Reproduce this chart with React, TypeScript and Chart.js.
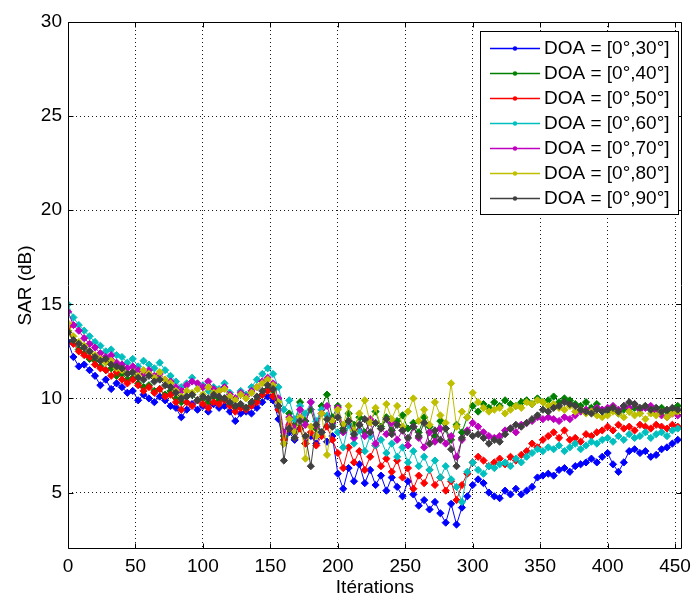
import React, { useEffect, useRef } from "react";
import { Chart, registerables } from "chart.js";

Chart.register(...registerables);

const iterations = [
  0, 4, 8, 12, 16, 20, 24, 28, 32, 36,
  40, 44, 48, 52, 56, 60, 64, 68, 72, 76,
  80, 84, 88, 92, 96, 100, 104, 108, 112, 116,
  120, 124, 128, 132, 136, 140, 144, 148, 152, 156,
  160, 164, 168, 172, 176, 180, 184, 188, 192, 196,
  200, 204, 208, 212, 216, 220, 224, 228, 232, 236,
  240, 244, 248, 252, 256, 260, 264, 268, 272, 276,
  280, 284, 288, 292, 296, 300, 304, 308, 312, 316,
  320, 324, 328, 332, 336, 340, 344, 348, 352, 356,
  360, 364, 368, 372, 376, 380, 384, 388, 392, 396,
  400, 404, 408, 412, 416, 420, 424, 428, 432, 436,
  440, 444, 448, 452,
];

const sarDoa30 = [
  13.0, 12.2, 11.7, 11.8, 11.5, 11.2, 10.7, 11.0, 10.5, 10.8,
  10.6, 10.3, 10.4, 9.9, 10.2, 10.0, 9.8, 10.1, 9.9, 9.6,
  9.5, 9.0, 9.4, 9.7, 9.4, 9.6, 9.3, 9.7, 9.5, 9.6,
  9.3, 8.8, 9.2, 9.3, 9.2, 9.5, 9.8, 10.1, 9.9, 8.9,
  7.6, 8.2, 7.8, 8.4, 7.6, 8.0, 7.6, 8.2, 7.7, 8.0,
  6.0, 5.2, 6.3, 5.6, 6.5, 5.5, 6.2, 5.4, 5.9, 5.1,
  5.8, 5.3, 4.8, 5.6, 4.9, 4.3, 4.6, 4.1, 4.5, 3.9,
  3.4, 4.4, 3.3, 4.2, 4.8, 5.4, 5.7, 5.5, 5.0, 4.8,
  4.7, 5.1, 4.9, 5.2, 4.9, 5.1, 5.3, 5.8, 5.9, 6.0,
  5.9, 6.2, 6.3, 6.1, 6.4, 6.5, 6.6, 6.8, 6.6, 6.9,
  7.1, 6.5, 6.1, 6.6, 7.2, 7.3, 7.1, 7.2, 6.9, 7.0,
  7.3, 7.4, 7.6, 7.8,
];

const sarDoa40 = [
  13.6, 13.0, 12.6, 12.4, 12.1, 12.0, 11.7, 11.5, 11.6, 11.2,
  11.3, 11.0, 11.1, 10.8, 10.6, 10.7, 10.4, 10.5, 10.2, 10.4,
  10.0, 9.8, 10.1, 10.2, 9.9, 10.0, 9.8, 10.1, 9.9, 10.0,
  9.7, 9.5, 9.6, 9.5, 9.7, 9.9, 10.2, 10.5, 10.4, 9.6,
  8.0, 9.2, 8.6, 9.8, 8.8, 9.4, 8.4, 9.6, 10.2, 9.0,
  9.6, 8.4, 9.2, 8.6, 9.0, 8.2, 8.8, 9.3, 8.5, 9.0,
  8.3, 8.8, 9.1, 8.4, 8.7, 8.2, 9.0, 8.5, 8.0, 8.8,
  8.4, 7.8, 8.6, 8.2, 9.0, 9.6, 9.3, 9.7, 9.5, 9.8,
  9.6, 9.9, 9.7, 9.6, 9.8, 9.9, 9.7, 10.0, 9.8, 9.9,
  10.1, 9.8, 10.0, 9.9, 9.7, 9.6, 9.8, 9.5, 9.7, 9.4,
  9.3, 9.5, 9.2, 9.4, 9.3, 9.5, 9.2, 9.6, 9.4, 9.3,
  9.5, 9.3, 9.4, 9.6,
];

const sarDoa50 = [
  13.8, 12.9, 12.5, 12.3, 12.2, 11.8, 11.6, 11.5, 11.2, 11.4,
  11.0, 10.8, 11.0, 10.7, 10.4, 10.6, 10.3, 10.5, 10.1, 10.2,
  9.8, 9.4, 9.8, 9.6, 9.9, 9.7, 9.5, 9.8, 9.7, 9.9,
  9.6, 9.3, 9.5, 9.4, 9.6, 9.8, 10.2, 10.4, 10.1, 9.4,
  7.8, 8.6, 7.9, 8.4, 7.6, 8.2, 7.5, 8.0, 8.5, 7.8,
  7.1, 6.3, 7.4, 6.6, 7.2, 6.2, 6.9, 7.5, 6.4, 6.8,
  6.1, 6.7, 5.8, 6.3, 5.2, 5.9, 5.5, 6.2, 5.4, 5.8,
  5.1, 5.6, 4.6, 5.4, 6.0, 6.6, 6.9, 6.7, 6.4, 6.6,
  6.8, 6.5, 6.9, 6.7, 7.0, 7.2, 7.6, 7.4, 7.8, 8.0,
  8.2, 7.9, 8.3, 7.8, 7.9, 7.7, 8.1, 8.0, 8.2, 8.3,
  8.5, 8.3, 8.6, 8.4, 8.5, 8.3, 8.6, 8.5, 8.4, 8.6,
  8.5, 8.4, 8.6, 8.5,
];

const sarDoa60 = [
  15.0, 14.3, 13.9, 13.6, 13.3, 13.0, 12.8, 12.5, 12.6, 12.3,
  12.2, 11.9, 12.1, 11.7, 12.0, 11.8, 11.6, 11.9, 11.5, 11.2,
  10.9, 10.6, 10.8, 11.1, 10.5, 10.7, 10.4, 10.6, 10.5, 10.8,
  10.3, 10.0, 10.4, 10.2, 10.6, 11.0, 11.3, 11.6, 11.3, 10.6,
  9.4, 9.9, 8.9, 9.6, 9.2, 9.8, 8.8, 9.4, 9.1, 8.6,
  8.2, 7.4, 8.6, 7.6, 8.3, 7.2, 8.0, 7.5, 7.8, 7.1,
  7.6, 6.9, 7.4, 6.6, 7.2, 6.4, 6.9, 6.2, 6.7, 5.8,
  6.4, 5.7, 5.3, 4.5, 6.1, 6.6, 6.2, 6.0, 6.4, 6.3,
  6.5, 6.6, 6.4, 6.8, 6.6, 6.9, 7.1, 7.3, 7.2, 7.4,
  7.3, 7.5, 7.2, 7.4, 7.6, 7.3, 7.5, 7.7, 7.6, 7.8,
  7.9, 7.7, 8.0, 7.8, 8.1, 7.9, 8.0, 8.2, 7.9, 8.1,
  8.2, 8.0, 8.3, 8.4,
];

const sarDoa70 = [
  14.6, 13.9, 13.6, 13.2, 12.9, 12.7, 12.4, 12.2, 12.3, 11.9,
  11.8, 11.6, 11.7, 11.5, 11.3, 11.5, 11.2, 11.3, 11.0, 10.9,
  10.6, 10.4, 10.7, 10.9, 10.8, 10.6, 10.9, 10.5, 10.4, 10.6,
  10.2, 10.0, 10.3, 10.1, 10.4, 10.6, 10.9, 11.1, 10.8, 10.0,
  8.2, 9.0, 8.4, 9.4, 8.6, 9.8, 8.5, 9.2, 9.6, 8.7,
  9.5, 8.2, 8.8, 7.9, 8.6, 8.0, 8.9, 7.6, 8.4, 8.1,
  8.7, 7.8, 8.3, 7.5, 8.5, 7.9, 7.4, 8.2, 7.7, 8.4,
  7.6, 8.0, 6.9, 7.8, 8.3, 8.7, 8.5, 8.2, 8.0, 7.9,
  8.0, 8.3, 8.4, 8.2, 8.6, 8.7, 8.8, 9.0, 8.9, 9.0,
  8.9, 8.8, 9.0, 8.9, 9.1, 9.3, 9.4, 9.3, 9.5, 9.4,
  9.5, 9.6, 9.4, 9.6, 9.5, 9.7, 9.4, 9.5, 9.6, 9.3,
  9.1, 9.0, 9.2, 9.1,
];

const sarDoa80 = [
  14.0, 13.3, 13.0, 12.8, 12.5, 12.3, 12.1, 11.9, 12.0, 11.6,
  11.5, 11.3, 11.4, 11.2, 11.5, 11.3, 11.1, 11.4, 11.0, 10.8,
  10.4, 10.1, 10.4, 10.3, 10.5, 10.2, 10.6, 10.3, 10.4, 10.5,
  10.1, 9.9, 10.2, 10.0, 10.3, 10.6, 10.8, 11.0, 10.7, 9.8,
  7.6, 8.9, 8.2, 9.0, 6.8, 8.5, 8.0, 9.2, 7.0, 8.8,
  9.4, 8.6, 9.6, 8.3, 9.2, 9.9, 8.7, 9.5, 8.4, 9.7,
  8.9, 9.6, 8.5, 9.3, 10.0, 8.8, 9.4, 8.6, 9.8, 9.1,
  8.7, 10.8, 8.5, 9.3, 9.0, 10.3, 9.8, 9.5, 9.3, 9.4,
  9.5, 9.2, 9.4, 9.6, 9.5, 9.8, 9.7, 9.9, 9.8, 9.6,
  9.7, 9.5, 9.4, 9.6, 9.3, 9.4, 9.2, 9.3, 9.1, 9.0,
  9.1, 9.3, 9.2, 9.0, 9.3, 9.1, 9.2, 8.9, 9.2, 9.1,
  9.3, 9.0, 9.2, 9.3,
];

const sarDoa90 = [
  13.5, 13.1, 12.9, 12.7, 12.5, 12.2, 12.0, 12.1, 11.8, 11.7,
  11.6, 11.3, 11.4, 11.1, 11.0, 11.2, 10.9, 11.0, 10.7, 10.6,
  10.3, 10.0, 10.1, 10.2, 9.9, 10.1, 10.0, 10.2, 10.1, 10.0,
  9.8, 9.6, 9.7, 9.5, 9.8, 10.1, 10.4, 10.7, 10.5, 9.6,
  6.7, 8.4, 7.9, 8.8, 8.0, 6.4, 8.6, 8.2, 8.9, 8.5,
  9.0, 8.3, 8.8, 8.1, 8.6, 8.9, 8.2, 8.7, 8.4, 8.9,
  8.1, 8.6, 8.3, 7.9, 8.5, 8.0, 8.7, 7.6, 8.3, 7.8,
  8.4, 7.3, 6.4, 7.9, 8.2, 8.0, 8.1, 7.9, 7.6, 7.8,
  7.7, 8.1, 8.4, 8.6, 8.5, 8.7, 8.9, 9.1, 9.4, 9.3,
  9.5, 9.6, 9.8, 9.7, 9.6, 9.4, 9.3, 9.2, 9.4, 9.3,
  9.4, 9.5, 9.3, 9.6, 9.8, 9.7, 9.5, 9.6, 9.4, 9.5,
  9.3, 9.4, 9.5, 9.4,
];

const seriesLabels = [
  "DOA = [0°,30°]",
  "DOA = [0°,40°]",
  "DOA = [0°,50°]",
  "DOA = [0°,60°]",
  "DOA = [0°,70°]",
  "DOA = [0°,80°]",
  "DOA = [0°,90°]",
];
const seriesValues = [sarDoa30, sarDoa40, sarDoa50, sarDoa60, sarDoa70, sarDoa80, sarDoa90];
const seriesColors = ["#0000FF", "#008000", "#FF0000", "#00BFBF", "#BF00BF", "#BFBF00", "#404040"];

const xTickValues = [0, 50, 100, 150, 200, 250, 300, 350, 400, 450];
const yTickValues = [5, 10, 15, 20, 25, 30];

const FONT_FAMILY = "'Liberation Sans', Arial, Helvetica, sans-serif";
const FONT_SIZE = 19;

const matlabPlugin = {
  id: "matlabFrame",
  afterDatasetsDraw(chart: any) {
    const { ctx, chartArea: a, scales } = chart;
    ctx.save();
    ctx.strokeStyle = "#000";
    ctx.lineWidth = 1;
    const L = Math.round(a.left) + 0.5;
    const R = Math.round(a.right) - 0.5;
    const T = Math.round(a.top) + 0.5;
    const B = Math.round(a.bottom) - 0.5;
    ctx.beginPath();
    ctx.rect(L, T, R - L, B - T);
    ctx.stroke();
    const tl = 5;
    ctx.beginPath();
    xTickValues.forEach((v) => {
      const px = Math.round(scales.x.getPixelForValue(v)) + 0.5;
      ctx.moveTo(px, B);
      ctx.lineTo(px, B - tl);
      ctx.moveTo(px, T);
      ctx.lineTo(px, T + tl);
    });
    yTickValues.forEach((v) => {
      const py = Math.round(scales.y.getPixelForValue(v)) + 0.5;
      ctx.moveTo(L, py);
      ctx.lineTo(L + tl, py);
      ctx.moveTo(R, py);
      ctx.lineTo(R - tl, py);
    });
    ctx.stroke();

    // legend box
    const bx = 480.5, by = 31.5, bw = 198, bh = 183;
    ctx.fillStyle = "#fff";
    ctx.fillRect(bx, by, bw, bh);
    ctx.strokeRect(bx, by, bw, bh);
    ctx.font = `${FONT_SIZE}px ${FONT_FAMILY}`;
    ctx.textBaseline = "middle";
    ctx.textAlign = "left";
    seriesLabels.forEach((lab, k) => {
      const cy = 47.5 + k * 25.1;
      const ry = Math.round(cy) + 0.5;
      ctx.strokeStyle = seriesColors[k];
      ctx.lineWidth = 1.5;
      ctx.beginPath();
      ctx.moveTo(490, ry);
      ctx.lineTo(540, ry);
      ctx.stroke();
      ctx.fillStyle = seriesColors[k];
      ctx.beginPath();
      ctx.arc(515, ry, 2.2, 0, Math.PI * 2);
      ctx.fill();
      ctx.fillStyle = "#000";
      ctx.fillText(lab, 544, cy + 1);
    });
    ctx.restore();
  },
};

export default function App() {
  const canvasRef = useRef<HTMLCanvasElement | null>(null);

  useEffect(() => {
    const canvas = canvasRef.current;
    if (!canvas) return;
    const font = { family: FONT_FAMILY, size: FONT_SIZE };
    const gridOpts = {
      color: "rgba(0,0,0,0.9)",
      lineWidth: 1,
      borderDash: [1, 3],
      drawTicks: false,
    };
    const borderOpts = { display: false, dash: [1, 3], dashOffset: 0 };
    const datasets = seriesValues.map((vals, k) => ({
      label: seriesLabels[k],
      data: iterations.map((x, i) => ({ x, y: vals[i] })),
      borderColor: seriesColors[k],
      backgroundColor: seriesColors[k],
      pointBorderColor: seriesColors[k],
      pointBackgroundColor: seriesColors[k],
      borderWidth: 1,
      pointRadius: 3.6,
      pointStyle: "rectRot",
      pointBorderWidth: 1,
      tension: 0,
      fill: false,
      order: seriesValues.length - k,
    }));
    const chart = new Chart(canvas, {
      type: "line",
      data: { datasets },
      options: {
        animation: false,
        responsive: false,
        events: [],
        layout: { padding: { left: 0, right: 8, top: 22, bottom: 0 } },
        plugins: {
          legend: { display: false },
          tooltip: { enabled: false },
        },
        scales: {
          x: {
            type: "linear",
            min: 0,
            max: 455,
            afterBuildTicks: (s: any) => {
              s.ticks = xTickValues.map((v) => ({ value: v }));
            },
            afterFit: (s: any) => {
              s.height = 50;
            },
            ticks: { font, color: "#000", padding: 6, maxRotation: 0, autoSkip: false },
            grid: gridOpts,
            border: borderOpts,
            title: {
              display: true,
              text: "Itérations",
              font,
              color: "#000",
              padding: { top: 0, bottom: 0 },
            },
          },
          y: {
            type: "linear",
            min: 2,
            max: 30,
            afterBuildTicks: (s: any) => {
              s.ticks = yTickValues.map((v) => ({ value: v }));
            },
            afterFit: (s: any) => {
              s.width = 68;
            },
            ticks: { font, color: "#000", padding: 6, autoSkip: false },
            grid: gridOpts,
            border: borderOpts,
            title: {
              display: true,
              text: "SAR (dB)",
              font,
              color: "#000",
              padding: { top: 14, bottom: 0 },
            },
          },
        },
      },
      plugins: [matlabPlugin],
    } as any);
    return () => chart.destroy();
  }, []);

  return (
    <div style={{ position: "absolute", left: 0, top: 0, width: 697, height: 599, background: "#fff" }}>
      <canvas ref={canvasRef} width={697} height={599} style={{ display: "block" }} />
    </div>
  );
}
